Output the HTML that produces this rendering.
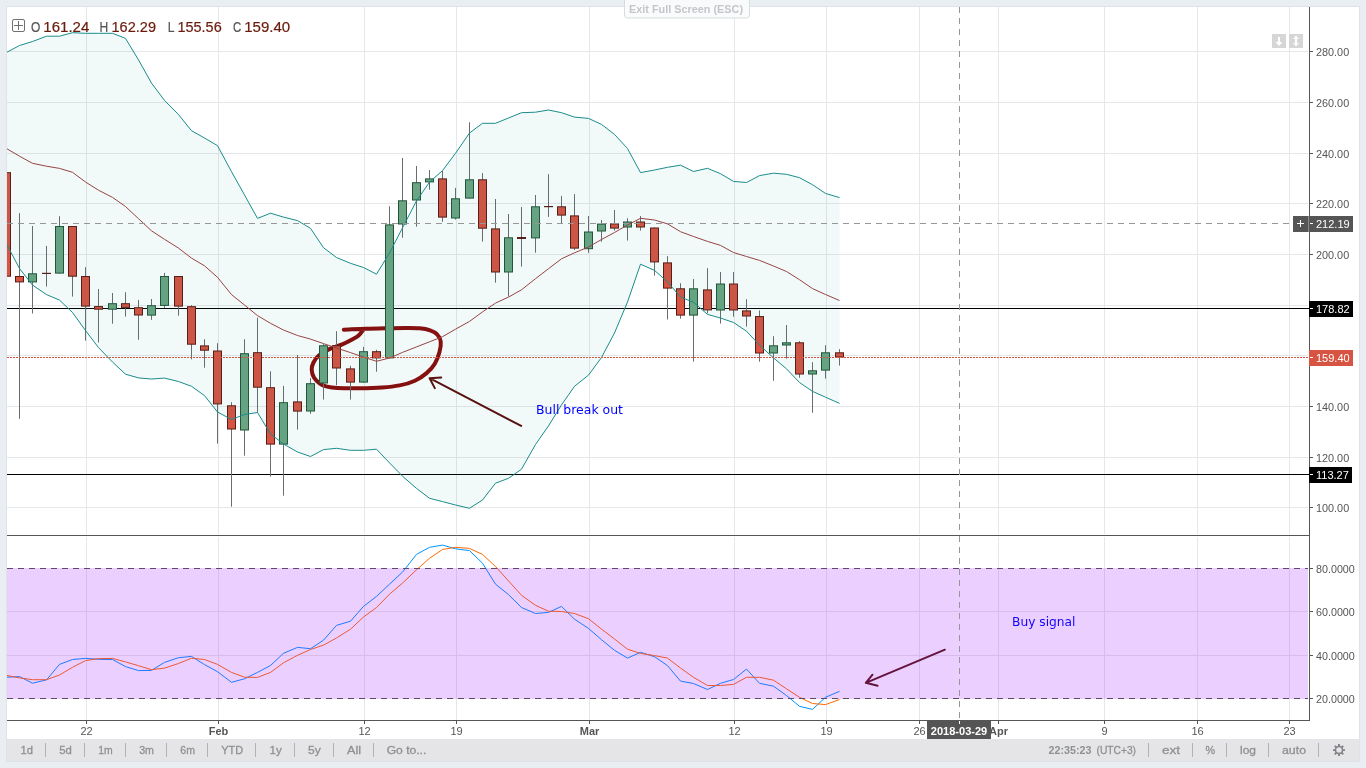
<!DOCTYPE html>
<html lang="en"><head><meta charset="utf-8"><title>Chart</title>
<style>html,body{margin:0;padding:0;background:#e9eef2;overflow:hidden}svg{display:block;will-change:transform;transform:translateZ(0)}text{font-family:"Liberation Sans", Arial, sans-serif}</style>
</head><body>
<svg width="1366" height="768" viewBox="0 0 1366 768">
<defs><clipPath id="main"><rect x="7" y="7" width="1302" height="528"/></clipPath><clipPath id="sto"><rect x="7" y="536" width="1302" height="184"/></clipPath></defs>
<rect width="1366" height="768" fill="#e9eef2"/>
<rect x="6" y="6" width="1354" height="756" fill="#dde3e8"/>
<rect x="7" y="7" width="1352" height="732" fill="#ffffff"/>
<rect x="7" y="739" width="1352" height="22" fill="#e5e5e7"/>
<path d="M86.5 7V534 M86.5 537V720 M218.5 7V534 M218.5 537V720 M364.5 7V534 M364.5 537V720 M456.5 7V534 M456.5 537V720 M589.5 7V534 M589.5 537V720 M734.5 7V534 M734.5 537V720 M826.5 7V534 M826.5 537V720 M919.5 7V534 M919.5 537V720 M998.5 7V534 M998.5 537V720 M1104.5 7V534 M1104.5 537V720 M1197.5 7V534 M1197.5 537V720 M1289.5 7V534 M1289.5 537V720 M7 51.5H1308 M7 102.5H1308 M7 153.5H1308 M7 203.5H1308 M7 254.5H1308 M7 305.5H1308 M7 355.5H1308 M7 406.5H1308 M7 457.5H1308 M7 507.5H1308 M7 611.5H1308 M7 655.5H1308" stroke="#e6e7e8" stroke-width="1" fill="none" shape-rendering="crispEdges"/>
<g clip-path="url(#main)">
<path d="M7 308.5H1309M7 474.5H1309" stroke="#000" stroke-width="1.15" fill="none"/>
<path d="M343.8 329.7C347.4 329.6 358.6 329.0 365.6 328.8C372.6 328.6 379.0 328.4 385.6 328.3C392.2 328.2 399.8 328.0 405.5 328.0C411.2 328.0 415.5 327.9 419.6 328.3C423.7 328.7 427.2 329.3 430.1 330.3C433.0 331.3 435.3 332.5 437.1 334.4C438.9 336.2 440.3 338.5 440.7 341.4C441.1 344.3 440.5 348.3 439.5 352.0C438.5 355.7 436.9 360.2 434.8 363.7C432.7 367.2 429.9 370.3 426.6 373.1C423.3 375.9 419.4 378.6 414.9 380.7C410.4 382.8 405.1 384.3 399.6 385.4C394.1 386.5 388.9 387.0 382.1 387.5C375.3 388.0 366.0 388.2 358.6 388.3C351.2 388.4 342.8 388.3 337.5 388.0C332.2 387.7 329.9 387.3 327.0 386.6C324.1 385.9 322.0 385.1 319.9 383.6C317.8 382.1 315.5 380.1 314.1 377.8C312.7 375.5 311.8 372.2 311.7 369.6C311.6 367.1 312.3 364.9 313.5 362.5C314.7 360.1 316.2 357.7 318.8 355.5C321.4 353.3 325.4 351.0 329.3 349.1C333.2 347.2 338.5 346.0 342.2 344.4C345.9 342.8 348.9 341.2 351.6 339.7C354.3 338.2 356.7 337.3 358.6 335.6C360.6 333.9 362.5 330.7 363.3 329.7" fill="none" stroke="#8c0a0a" stroke-width="4" stroke-linecap="round" stroke-linejoin="round"/>
<path d="M521.2 425.9L429.6 378.2M441.2 377.4L429.6 378.2L434.8 388.1" fill="none" stroke="#5e0c0c" stroke-width="2" stroke-linecap="round" stroke-linejoin="round"/>
<path d="M6.5 172.2V276.7 M19.5 213.1V418.9 M32.5 226.0V313.5 M46.5 245.9V286.6 M59.5 216.2V273.6 M72.5 226.0V296.6 M85.5 267.2V340.7 M98.5 289.0V342.5 M112.5 293.0V323.7 M125.5 292.2V316.6 M138.5 299.9V339.8 M151.5 299.0V319.8 M164.5 272.9V307.9 M178.5 276.0V315.7 M191.5 305.2V359.3 M204.5 339.2V367.7 M217.5 343.2V443.6 M231.5 402.2V506.7 M244.5 339.2V455.7 M257.5 317.7V412.4 M270.5 371.3V476.6 M283.5 385.9V495.7 M297.5 355.0V429.7 M310.5 378.2V413.8 M323.5 344.2V399.6 M336.5 331.2V385.2 M350.5 365.8V399.6 M363.5 346.9V382.6 M376.5 349.8V371.7 M389.5 206.2V358.4 M402.5 158.0V237.7 M416.5 166.0V226.7 M429.5 170.0V189.7 M442.5 170.9V221.8 M455.5 187.9V219.6 M469.5 122.2V198.6 M482.5 173.1V241.6 M495.5 199.0V282.7 M508.5 214.0V296.4 M521.5 207.0V266.6 M535.5 195.0V252.7 M548.5 174.2V216.9 M561.5 195.9V223.3 M574.5 194.1V250.0 M588.5 216.0V252.8 M601.5 220.0V241.7 M614.5 210.0V230.7 M627.5 218.2V240.6 M640.5 216.0V230.6 M654.5 227.5V275.6 M667.5 256.1V319.5 M680.5 283.2V318.7 M693.5 279.0V361.6 M707.5 268.2V313.3 M720.5 272.0V323.6 M733.5 272.0V316.7 M746.5 299.2V326.6 M759.5 310.4V361.7 M773.5 336.2V380.8 M786.5 325.0V358.7 M799.5 341.1V377.7 M812.5 362.2V412.8 M825.5 345.2V378.6 M839.5 349.1V365.6" stroke="#6a6d70" stroke-width="1" fill="none"/>
<rect x="2.5" y="172.7" width="8" height="103.5" fill="#d75442" stroke="#5b1a13" stroke-width="1"/>
<rect x="15.5" y="276.5" width="8" height="5.4" fill="#d75442" stroke="#5b1a13" stroke-width="1"/>
<rect x="28.5" y="273.8" width="8" height="8.1" fill="#6ba583" stroke="#225437" stroke-width="1"/>
<rect x="42" y="272.8" width="9" height="1.2" fill="#5b1a13"/>
<rect x="55.5" y="226.5" width="8" height="46.6" fill="#6ba583" stroke="#225437" stroke-width="1"/>
<rect x="68.5" y="226.5" width="8" height="49.7" fill="#d75442" stroke="#5b1a13" stroke-width="1"/>
<rect x="81.5" y="276.5" width="8" height="29.6" fill="#d75442" stroke="#5b1a13" stroke-width="1"/>
<rect x="94.5" y="306.6" width="8" height="2.6" fill="#d75442" stroke="#5b1a13" stroke-width="1"/>
<rect x="108.5" y="303.7" width="8" height="5.5" fill="#6ba583" stroke="#225437" stroke-width="1"/>
<rect x="121.5" y="303.7" width="8" height="3.7" fill="#d75442" stroke="#5b1a13" stroke-width="1"/>
<rect x="134.5" y="307.7" width="8" height="7.3" fill="#d75442" stroke="#5b1a13" stroke-width="1"/>
<rect x="147.5" y="305.7" width="8" height="9.4" fill="#6ba583" stroke="#225437" stroke-width="1"/>
<rect x="160.5" y="276.5" width="8" height="28.9" fill="#6ba583" stroke="#225437" stroke-width="1"/>
<rect x="174.5" y="276.5" width="8" height="29.6" fill="#d75442" stroke="#5b1a13" stroke-width="1"/>
<rect x="187.5" y="306.7" width="8" height="37.5" fill="#d75442" stroke="#5b1a13" stroke-width="1"/>
<rect x="200.5" y="345.9" width="8" height="4.3" fill="#d75442" stroke="#5b1a13" stroke-width="1"/>
<rect x="213.5" y="351.0" width="8" height="52.9" fill="#d75442" stroke="#5b1a13" stroke-width="1"/>
<rect x="227.5" y="405.8" width="8" height="23.2" fill="#d75442" stroke="#5b1a13" stroke-width="1"/>
<rect x="240.5" y="353.7" width="8" height="76.3" fill="#6ba583" stroke="#225437" stroke-width="1"/>
<rect x="253.5" y="352.7" width="8" height="34.5" fill="#d75442" stroke="#5b1a13" stroke-width="1"/>
<rect x="266.5" y="387.7" width="8" height="56.4" fill="#d75442" stroke="#5b1a13" stroke-width="1"/>
<rect x="279.5" y="402.7" width="8" height="41.4" fill="#6ba583" stroke="#225437" stroke-width="1"/>
<rect x="293.5" y="401.9" width="8" height="9.2" fill="#d75442" stroke="#5b1a13" stroke-width="1"/>
<rect x="306.5" y="383.7" width="8" height="27.3" fill="#6ba583" stroke="#225437" stroke-width="1"/>
<rect x="319.5" y="345.8" width="8" height="37.2" fill="#6ba583" stroke="#225437" stroke-width="1"/>
<rect x="332.5" y="345.8" width="8" height="22.2" fill="#d75442" stroke="#5b1a13" stroke-width="1"/>
<rect x="346.5" y="368.9" width="8" height="13.2" fill="#d75442" stroke="#5b1a13" stroke-width="1"/>
<rect x="359.5" y="351.7" width="8" height="30.4" fill="#6ba583" stroke="#225437" stroke-width="1"/>
<rect x="372.5" y="351.7" width="8" height="6.2" fill="#d75442" stroke="#5b1a13" stroke-width="1"/>
<rect x="385.5" y="224.9" width="8" height="133.0" fill="#6ba583" stroke="#225437" stroke-width="1"/>
<rect x="398.5" y="200.8" width="8" height="23.2" fill="#6ba583" stroke="#225437" stroke-width="1"/>
<rect x="412.5" y="182.7" width="8" height="17.3" fill="#6ba583" stroke="#225437" stroke-width="1"/>
<rect x="425.5" y="178.9" width="8" height="3.0" fill="#6ba583" stroke="#225437" stroke-width="1"/>
<rect x="438.5" y="178.9" width="8" height="38.2" fill="#d75442" stroke="#5b1a13" stroke-width="1"/>
<rect x="451.5" y="198.8" width="8" height="19.2" fill="#6ba583" stroke="#225437" stroke-width="1"/>
<rect x="465.5" y="179.8" width="8" height="18.3" fill="#6ba583" stroke="#225437" stroke-width="1"/>
<rect x="478.5" y="179.8" width="8" height="48.4" fill="#d75442" stroke="#5b1a13" stroke-width="1"/>
<rect x="491.5" y="228.9" width="8" height="43.1" fill="#d75442" stroke="#5b1a13" stroke-width="1"/>
<rect x="504.5" y="237.8" width="8" height="34.2" fill="#6ba583" stroke="#225437" stroke-width="1"/>
<rect x="517" y="237.0" width="9" height="2.0" fill="#5b1a13"/>
<rect x="531.5" y="206.8" width="8" height="31.1" fill="#6ba583" stroke="#225437" stroke-width="1"/>
<rect x="544" y="206.0" width="9" height="1.2" fill="#5b1a13"/>
<rect x="557.5" y="206.8" width="8" height="8.3" fill="#d75442" stroke="#5b1a13" stroke-width="1"/>
<rect x="570.5" y="215.9" width="8" height="32.2" fill="#d75442" stroke="#5b1a13" stroke-width="1"/>
<rect x="584.5" y="232.0" width="8" height="16.7" fill="#6ba583" stroke="#225437" stroke-width="1"/>
<rect x="597.5" y="224.1" width="8" height="6.9" fill="#6ba583" stroke="#225437" stroke-width="1"/>
<rect x="610.5" y="223.9" width="8" height="4.2" fill="#d75442" stroke="#5b1a13" stroke-width="1"/>
<rect x="623.5" y="222.0" width="8" height="5.0" fill="#6ba583" stroke="#225437" stroke-width="1"/>
<rect x="636.5" y="222.0" width="8" height="5.0" fill="#d75442" stroke="#5b1a13" stroke-width="1"/>
<rect x="650.5" y="228.0" width="8" height="33.9" fill="#d75442" stroke="#5b1a13" stroke-width="1"/>
<rect x="663.5" y="262.9" width="8" height="25.2" fill="#d75442" stroke="#5b1a13" stroke-width="1"/>
<rect x="676.5" y="288.8" width="8" height="26.3" fill="#d75442" stroke="#5b1a13" stroke-width="1"/>
<rect x="689.5" y="288.8" width="8" height="26.3" fill="#6ba583" stroke="#225437" stroke-width="1"/>
<rect x="703.5" y="289.9" width="8" height="20.0" fill="#d75442" stroke="#5b1a13" stroke-width="1"/>
<rect x="716.5" y="284.0" width="8" height="26.0" fill="#6ba583" stroke="#225437" stroke-width="1"/>
<rect x="729.5" y="284.0" width="8" height="26.0" fill="#d75442" stroke="#5b1a13" stroke-width="1"/>
<rect x="742.5" y="310.9" width="8" height="5.1" fill="#d75442" stroke="#5b1a13" stroke-width="1"/>
<rect x="755.5" y="316.6" width="8" height="36.4" fill="#d75442" stroke="#5b1a13" stroke-width="1"/>
<rect x="769.5" y="345.8" width="8" height="7.2" fill="#6ba583" stroke="#225437" stroke-width="1"/>
<rect x="782.5" y="342.8" width="8" height="2.2" fill="#6ba583" stroke="#225437" stroke-width="1"/>
<rect x="795.5" y="342.8" width="8" height="31.2" fill="#d75442" stroke="#5b1a13" stroke-width="1"/>
<rect x="808.5" y="370.8" width="8" height="3.2" fill="#6ba583" stroke="#225437" stroke-width="1"/>
<rect x="821.5" y="352.8" width="8" height="17.3" fill="#6ba583" stroke="#225437" stroke-width="1"/>
<rect x="835.5" y="352.8" width="8" height="4.2" fill="#d75442" stroke="#5b1a13" stroke-width="1"/>
<polygon points="6.5,52.4 19.5,45.5 32.5,41.5 46.5,36.2 59.5,36.2 72.5,32.7 85.5,33.3 98.5,33.3 112.5,33.3 125.5,38.4 138.5,59.9 151.5,83.1 164.5,100.4 178.5,114.6 191.5,130.7 204.5,138.0 217.5,145.6 231.5,171.7 244.5,194.9 257.5,218.4 270.5,213.2 283.5,217.1 297.5,220.6 310.5,228.3 323.5,247.7 336.5,257.5 350.5,263.3 363.5,267.5 376.5,274.2 389.5,252.9 402.5,227.9 416.5,200.8 429.5,182.1 442.5,170.6 455.5,153.3 469.5,133.0 482.5,123.3 495.5,123.3 508.5,118.0 521.5,112.7 535.5,112.2 548.5,110.0 561.5,112.7 574.5,117.1 588.5,118.4 601.5,124.4 614.5,134.4 627.5,148.5 640.5,172.6 654.5,170.0 667.5,167.3 680.5,165.2 693.5,171.5 707.5,168.3 720.5,173.7 733.5,181.4 746.5,182.5 759.5,175.6 773.5,173.2 786.5,174.3 799.5,177.7 812.5,184.7 825.5,193.4 839.5,197.6 839.5,403.4 825.5,397.2 812.5,391.4 799.5,382.5 786.5,368.8 773.5,357.9 759.5,345.2 746.5,331.2 733.5,322.5 720.5,318.0 707.5,314.4 693.5,302.3 680.5,297.0 667.5,281.9 654.5,270.4 640.5,264.2 627.5,302.0 614.5,333.0 601.5,357.5 588.5,375.1 574.5,386.3 561.5,404.9 548.5,425.9 535.5,444.5 521.5,469.2 508.5,478.3 495.5,483.2 482.5,500.0 469.5,508.3 455.5,505.0 442.5,501.6 429.5,498.3 416.5,488.4 402.5,476.2 389.5,462.9 376.5,449.2 363.5,450.3 350.5,450.3 336.5,448.3 323.5,449.6 310.5,456.5 297.5,452.0 283.5,444.0 270.5,434.0 257.5,412.5 244.5,414.5 231.5,419.5 217.5,412.0 204.5,395.6 191.5,386.3 178.5,381.5 164.5,378.1 151.5,379.0 138.5,377.9 125.5,374.2 112.5,362.0 98.5,347.6 85.5,330.5 72.5,312.5 59.5,300.1 46.5,294.6 32.5,285.1 19.5,268.5 6.5,244.0" fill="#008080" fill-opacity="0.05"/>
<polyline points="6.5,52.4 19.5,45.5 32.5,41.5 46.5,36.2 59.5,36.2 72.5,32.7 85.5,33.3 98.5,33.3 112.5,33.3 125.5,38.4 138.5,59.9 151.5,83.1 164.5,100.4 178.5,114.6 191.5,130.7 204.5,138.0 217.5,145.6 231.5,171.7 244.5,194.9 257.5,218.4 270.5,213.2 283.5,217.1 297.5,220.6 310.5,228.3 323.5,247.7 336.5,257.5 350.5,263.3 363.5,267.5 376.5,274.2 389.5,252.9 402.5,227.9 416.5,200.8 429.5,182.1 442.5,170.6 455.5,153.3 469.5,133.0 482.5,123.3 495.5,123.3 508.5,118.0 521.5,112.7 535.5,112.2 548.5,110.0 561.5,112.7 574.5,117.1 588.5,118.4 601.5,124.4 614.5,134.4 627.5,148.5 640.5,172.6 654.5,170.0 667.5,167.3 680.5,165.2 693.5,171.5 707.5,168.3 720.5,173.7 733.5,181.4 746.5,182.5 759.5,175.6 773.5,173.2 786.5,174.3 799.5,177.7 812.5,184.7 825.5,193.4 839.5,197.6" fill="none" stroke="#1a8c8c" stroke-width="1"/>
<polyline points="6.5,244.0 19.5,268.5 32.5,285.1 46.5,294.6 59.5,300.1 72.5,312.5 85.5,330.5 98.5,347.6 112.5,362.0 125.5,374.2 138.5,377.9 151.5,379.0 164.5,378.1 178.5,381.5 191.5,386.3 204.5,395.6 217.5,412.0 231.5,419.5 244.5,414.5 257.5,412.5 270.5,434.0 283.5,444.0 297.5,452.0 310.5,456.5 323.5,449.6 336.5,448.3 350.5,450.3 363.5,450.3 376.5,449.2 389.5,462.9 402.5,476.2 416.5,488.4 429.5,498.3 442.5,501.6 455.5,505.0 469.5,508.3 482.5,500.0 495.5,483.2 508.5,478.3 521.5,469.2 535.5,444.5 548.5,425.9 561.5,404.9 574.5,386.3 588.5,375.1 601.5,357.5 614.5,333.0 627.5,302.0 640.5,264.2 654.5,270.4 667.5,281.9 680.5,297.0 693.5,302.3 707.5,314.4 720.5,318.0 733.5,322.5 746.5,331.2 759.5,345.2 773.5,357.9 786.5,368.8 799.5,382.5 812.5,391.4 825.5,397.2 839.5,403.4" fill="none" stroke="#1a8c8c" stroke-width="1"/>
<polyline points="6.5,148.5 19.5,156.2 32.5,163.3 46.5,166.2 59.5,168.4 72.5,172.3 85.5,182.0 98.5,190.2 112.5,197.4 125.5,206.5 138.5,218.7 151.5,230.8 164.5,239.3 178.5,248.1 191.5,258.1 204.5,265.8 217.5,277.3 231.5,294.6 244.5,305.0 257.5,315.6 270.5,323.3 283.5,330.0 297.5,335.5 310.5,339.1 323.5,343.6 336.5,348.0 350.5,352.6 363.5,357.1 376.5,361.3 389.5,358.0 402.5,352.4 416.5,346.9 429.5,341.8 442.5,336.7 455.5,329.2 469.5,321.4 482.5,311.9 495.5,303.1 508.5,297.1 521.5,289.8 535.5,278.7 548.5,268.7 561.5,258.8 574.5,252.8 588.5,247.0 601.5,239.5 614.5,232.5 627.5,225.0 640.5,218.3 654.5,220.0 667.5,223.9 680.5,231.7 693.5,236.5 707.5,241.4 720.5,245.4 733.5,252.5 746.5,256.5 759.5,260.4 773.5,266.0 786.5,271.5 799.5,279.7 812.5,288.6 825.5,294.5 839.5,300.5" fill="none" stroke="#964444" stroke-width="1"/>
</g>
<rect x="7" y="535" width="1302" height="1" fill="#555555"/>
<g clip-path="url(#sto)">
<polyline points="6.5,677.2 19.5,676.6 32.5,683.2 46.5,679.9 59.5,664.4 72.5,659.5 85.5,658.4 98.5,659.3 112.5,659.5 125.5,666.6 138.5,670.6 151.5,670.4 164.5,662.4 178.5,657.7 191.5,656.4 204.5,664.6 217.5,671.7 231.5,682.3 244.5,678.8 257.5,672.4 270.5,665.5 283.5,653.3 297.5,647.4 310.5,648.7 323.5,640.2 336.5,625.4 350.5,621.2 363.5,606.4 376.5,596.4 389.5,584.2 402.5,572.1 416.5,554.4 429.5,547.3 442.5,545.1 455.5,548.8 469.5,550.6 482.5,563.2 495.5,584.2 508.5,594.6 521.5,607.5 535.5,613.5 548.5,612.4 561.5,606.4 574.5,619.2 588.5,628.4 601.5,639.7 614.5,650.3 627.5,658.1 640.5,652.3 654.5,656.7 667.5,665.6 680.5,681.1 693.5,683.5 707.5,689.5 720.5,683.3 733.5,679.5 746.5,669.1 759.5,683.3 773.5,686.2 786.5,695.5 799.5,706.3 812.5,709.4 825.5,697.3 839.5,691.3" fill="none" stroke="#0094ff" stroke-width="1"/>
<polyline points="6.5,675.4 19.5,677.9 32.5,679.7 46.5,679.7 59.5,675.0 72.5,667.3 85.5,660.6 98.5,658.6 112.5,658.4 125.5,661.9 138.5,665.7 151.5,669.7 164.5,668.1 178.5,663.5 191.5,658.2 204.5,659.5 217.5,664.4 231.5,672.4 244.5,677.2 257.5,677.4 270.5,672.4 283.5,662.8 297.5,655.3 310.5,649.5 323.5,645.1 336.5,638.0 350.5,629.2 363.5,617.0 376.5,607.5 389.5,594.2 402.5,583.1 416.5,569.8 429.5,558.3 442.5,549.5 455.5,547.3 469.5,548.4 482.5,554.4 495.5,566.5 508.5,580.9 521.5,595.3 535.5,605.3 548.5,611.2 561.5,611.5 574.5,613.5 588.5,618.7 601.5,629.1 614.5,639.0 627.5,649.2 640.5,653.4 654.5,655.6 667.5,658.1 680.5,668.0 693.5,677.3 707.5,685.5 720.5,685.5 733.5,684.4 746.5,677.3 759.5,677.3 773.5,680.2 786.5,688.8 799.5,697.3 812.5,703.5 825.5,704.6 839.5,699.5" fill="none" stroke="#ff6a00" stroke-width="1"/>
<rect x="7" y="568" width="1301" height="131" fill="#9915ff" fill-opacity="0.2"/>
<path d="M7 568.5H1308M7 698.5H1308" stroke="#5c4a66" stroke-width="1" stroke-dasharray="6 5" fill="none" shape-rendering="crispEdges"/>
</g>
<path d="M7 357.5H1309" stroke="#d75442" stroke-width="1" stroke-dasharray="2 1" fill="none" shape-rendering="crispEdges"/>
<path d="M944.9 649.7L865.8 682.8M872.5 674.7L865.8 682.8L877.6 685.7" fill="none" stroke="#64143c" stroke-width="2" stroke-linecap="round" stroke-linejoin="round"/>
<text x="536" y="414" font-size="12.2" fill="#0000ff" style="font-family:'DejaVu Sans',Verdana,sans-serif" textLength="87" lengthAdjust="spacingAndGlyphs">Bull break out</text>
<text x="1012" y="626" font-size="12.2" fill="#1400ff" style="font-family:'DejaVu Sans',Verdana,sans-serif" textLength="63.5" lengthAdjust="spacingAndGlyphs">Buy signal</text>
<path d="M7 223.5H1293" stroke="#969696" stroke-width="1" stroke-dasharray="6 5" fill="none" shape-rendering="crispEdges"/>
<path d="M959.5 7V535M959.5 536V721" stroke="#969696" stroke-width="1" stroke-dasharray="6 5" fill="none" shape-rendering="crispEdges"/>
<rect x="1309" y="7" width="1" height="714" fill="#555555"/>
<rect x="7" y="720" width="1303" height="1" fill="#555555"/>
<path d="M1310 51.5H1313 M1310 102.5H1313 M1310 153.5H1313 M1310 203.5H1313 M1310 254.5H1313 M1310 305.5H1313 M1310 355.5H1313 M1310 406.5H1313 M1310 457.5H1313 M1310 507.5H1313 M1310 568.5H1313 M1310 611.5H1313 M1310 655.5H1313 M1310 698.5H1313 M86.5 721V724 M218.5 721V724 M364.5 721V724 M456.5 721V724 M589.5 721V724 M734.5 721V724 M826.5 721V724 M919.5 721V724 M998.5 721V724 M1104.5 721V724 M1197.5 721V724 M1289.5 721V724" stroke="#555555" stroke-width="1" fill="none" shape-rendering="crispEdges"/>
<text x="1316" y="55.5" font-size="11" fill="#555555" textLength="33.2" lengthAdjust="spacingAndGlyphs">280.00</text>
<text x="1316" y="106.5" font-size="11" fill="#555555" textLength="33.2" lengthAdjust="spacingAndGlyphs">260.00</text>
<text x="1316" y="157.5" font-size="11" fill="#555555" textLength="33.2" lengthAdjust="spacingAndGlyphs">240.00</text>
<text x="1316" y="207.5" font-size="11" fill="#555555" textLength="33.2" lengthAdjust="spacingAndGlyphs">220.00</text>
<text x="1316" y="258.5" font-size="11" fill="#555555" textLength="33.2" lengthAdjust="spacingAndGlyphs">200.00</text>
<text x="1316" y="410.5" font-size="11" fill="#555555" textLength="33.2" lengthAdjust="spacingAndGlyphs">140.00</text>
<text x="1316" y="461.5" font-size="11" fill="#555555" textLength="33.2" lengthAdjust="spacingAndGlyphs">120.00</text>
<text x="1316" y="511.5" font-size="11" fill="#555555" textLength="33.2" lengthAdjust="spacingAndGlyphs">100.00</text>
<text x="1316" y="572.5" font-size="11" fill="#555555" textLength="38.8" lengthAdjust="spacingAndGlyphs">80.0000</text>
<text x="1316" y="615.5" font-size="11" fill="#555555" textLength="38.8" lengthAdjust="spacingAndGlyphs">60.0000</text>
<text x="1316" y="659.5" font-size="11" fill="#555555" textLength="38.8" lengthAdjust="spacingAndGlyphs">40.0000</text>
<text x="1316" y="702.5" font-size="11" fill="#555555" textLength="38.8" lengthAdjust="spacingAndGlyphs">20.0000</text>
<text x="86.5" y="735" font-size="11" fill="#555555" text-anchor="middle">22</text>
<text x="218.5" y="735" font-size="11" fill="#555555" text-anchor="middle" font-weight="bold">Feb</text>
<text x="364.5" y="735" font-size="11" fill="#555555" text-anchor="middle">12</text>
<text x="456.5" y="735" font-size="11" fill="#555555" text-anchor="middle">19</text>
<text x="589.5" y="735" font-size="11" fill="#555555" text-anchor="middle" font-weight="bold">Mar</text>
<text x="734.5" y="735" font-size="11" fill="#555555" text-anchor="middle">12</text>
<text x="826.5" y="735" font-size="11" fill="#555555" text-anchor="middle">19</text>
<text x="919.5" y="735" font-size="11" fill="#555555" text-anchor="middle">26</text>
<text x="998.5" y="735" font-size="11" fill="#555555" text-anchor="middle" font-weight="bold">Apr</text>
<text x="1104.5" y="735" font-size="11" fill="#555555" text-anchor="middle">9</text>
<text x="1197.5" y="735" font-size="11" fill="#555555" text-anchor="middle">16</text>
<text x="1289.5" y="735" font-size="11" fill="#555555" text-anchor="middle">23</text>
<rect x="927" y="721" width="64" height="18" fill="#555555"/>
<rect x="959" y="721" width="1" height="3" fill="#ffffff"/>
<text x="959" y="735" font-size="11" font-weight="bold" fill="#ffffff" text-anchor="middle" textLength="56.5" lengthAdjust="spacingAndGlyphs">2018-03-29</text>
<rect x="1293" y="216" width="15" height="16" fill="#555555"/>
<rect x="1308" y="216" width="1" height="16" fill="#8a8a8a"/>
<rect x="1309" y="216" width="44" height="16" fill="#555555"/>
<path d="M1297 223.5H1304M1300.5 220V227" stroke="#fff" stroke-width="1" fill="none" shape-rendering="crispEdges"/>
<rect x="1310" y="223" width="3" height="1" fill="#fff"/>
<text x="1316" y="228" font-size="11" fill="#fff">212.19</text>
<rect x="1309" y="301" width="44" height="16" fill="#000"/>
<rect x="1310" y="308" width="3" height="1" fill="#fff"/>
<text x="1316" y="313" font-size="11" fill="#fff">178.82</text>
<rect x="1309" y="350" width="44" height="16" fill="#d75442"/>
<rect x="1310" y="357" width="3" height="1" fill="#fff"/>
<text x="1316" y="362" font-size="11" fill="#fff">159.40</text>
<rect x="1309" y="467" width="43" height="16" fill="#000"/>
<rect x="1310" y="474" width="3" height="1" fill="#fff"/>
<text x="1316" y="479" font-size="11" fill="#fff">113.27</text>
<rect x="1272" y="34" width="14" height="14" fill="#d6d6d6"/><rect x="1289" y="34" width="14" height="14" fill="#d6d6d6"/>
<path d="M1278 37h2v5h2.5l-3.5 4l-3.5-4h2.5z" fill="#fff"/>
<path d="M1296 35.5l3 3.5h-2v4h2l-3 3.5l-3-3.5h2v-4h-2z" fill="#fff"/>
<rect x="12.5" y="19.5" width="12" height="12" rx="1.5" fill="none" stroke="#707070" stroke-width="1"/>
<path d="M14 25.5H23M18.5 21V30" stroke="#707070" stroke-width="1" fill="none" shape-rendering="crispEdges"/>
<text x="31" y="31.8" font-size="14.9" fill="#555" stroke="#555" stroke-width="0.2" textLength="9.3" lengthAdjust="spacingAndGlyphs">O</text>
<text x="43.3" y="31.8" font-size="14.9" fill="#6a1b0b" stroke="#6a1b0b" stroke-width="0.2" textLength="46" lengthAdjust="spacingAndGlyphs">161.24</text>
<text x="99.5" y="31.8" font-size="14.9" fill="#555" stroke="#555" stroke-width="0.2" textLength="8.7" lengthAdjust="spacingAndGlyphs">H</text>
<text x="111.5" y="31.8" font-size="14.9" fill="#6a1b0b" stroke="#6a1b0b" stroke-width="0.2" textLength="44.5" lengthAdjust="spacingAndGlyphs">162.29</text>
<text x="167.7" y="31.8" font-size="14.9" fill="#555" stroke="#555" stroke-width="0.2" textLength="6.8" lengthAdjust="spacingAndGlyphs">L</text>
<text x="177.5" y="31.8" font-size="14.9" fill="#6a1b0b" stroke="#6a1b0b" stroke-width="0.2" textLength="44.2" lengthAdjust="spacingAndGlyphs">155.56</text>
<text x="233" y="31.8" font-size="14.9" fill="#555" stroke="#555" stroke-width="0.2" textLength="8.2" lengthAdjust="spacingAndGlyphs">C</text>
<text x="244.2" y="31.8" font-size="14.9" fill="#6a1b0b" stroke="#6a1b0b" stroke-width="0.2" textLength="46" lengthAdjust="spacingAndGlyphs">159.40</text>
<path d="M624.5 0V15a3 3 0 0 0 3 3H746.500a3 3 0 0 0 3-3V0" fill="#fafbfc" fill-opacity="0.92" stroke="#d9dcdf" stroke-width="1"/>
<text x="629" y="13" font-size="11.2" font-weight="bold" fill="#c4c6ca" textLength="114" lengthAdjust="spacingAndGlyphs">Exit Full Screen (ESC)</text>
<path d="M45.5 743V757 M84.5 743V757 M125.5 743V757 M166.5 743V757 M207.5 743V757 M255.5 743V757 M294.5 743V757 M333.5 743V757 M373.5 743V757 M1148.5 743V757 M1192.5 743V757 M1226.5 743V757 M1268.5 743V757 M1318.5 743V757" stroke="#b0b2b6" stroke-width="1" fill="none" shape-rendering="crispEdges"/>
<text x="20.5" y="754" font-size="11.6" fill="#8e9093" stroke="#8e9093" stroke-width="0.3" textLength="12.5" lengthAdjust="spacingAndGlyphs">1d</text>
<text x="59.3" y="754" font-size="11.6" fill="#8e9093" stroke="#8e9093" stroke-width="0.3" textLength="12.6" lengthAdjust="spacingAndGlyphs">5d</text>
<text x="98.2" y="754" font-size="11.6" fill="#8e9093" stroke="#8e9093" stroke-width="0.3" textLength="14.5" lengthAdjust="spacingAndGlyphs">1m</text>
<text x="139.2" y="754" font-size="11.6" fill="#8e9093" stroke="#8e9093" stroke-width="0.3" textLength="14.8" lengthAdjust="spacingAndGlyphs">3m</text>
<text x="180.3" y="754" font-size="11.6" fill="#8e9093" stroke="#8e9093" stroke-width="0.3" textLength="14.6" lengthAdjust="spacingAndGlyphs">6m</text>
<text x="221.3" y="754" font-size="11.6" fill="#8e9093" stroke="#8e9093" stroke-width="0.3" textLength="21.9" lengthAdjust="spacingAndGlyphs">YTD</text>
<text x="269.5" y="754" font-size="11.6" fill="#8e9093" stroke="#8e9093" stroke-width="0.3" textLength="12.3" lengthAdjust="spacingAndGlyphs">1y</text>
<text x="308" y="754" font-size="11.6" fill="#8e9093" stroke="#8e9093" stroke-width="0.3" textLength="12.7" lengthAdjust="spacingAndGlyphs">5y</text>
<text x="347" y="754" font-size="11.6" fill="#8e9093" stroke="#8e9093" stroke-width="0.3" textLength="14" lengthAdjust="spacingAndGlyphs">All</text>
<text x="386.7" y="754" font-size="11.6" fill="#8e9093" stroke="#8e9093" stroke-width="0.3" textLength="39.6" lengthAdjust="spacingAndGlyphs">Go to...</text>
<text x="1162" y="754" font-size="11.6" fill="#8e9093" stroke="#8e9093" stroke-width="0.3" textLength="18" lengthAdjust="spacingAndGlyphs">ext</text>
<text x="1205.5" y="754" font-size="11.6" fill="#8e9093" stroke="#8e9093" stroke-width="0.3" textLength="9.6" lengthAdjust="spacingAndGlyphs">%</text>
<text x="1240" y="754" font-size="11.6" fill="#8e9093" stroke="#8e9093" stroke-width="0.3" textLength="16" lengthAdjust="spacingAndGlyphs">log</text>
<text x="1282" y="754" font-size="11.6" fill="#8e9093" stroke="#8e9093" stroke-width="0.3" textLength="24" lengthAdjust="spacingAndGlyphs">auto</text>
<text x="1048.5" y="754" font-size="11.6" font-weight="bold" fill="#8e9093" textLength="43" lengthAdjust="spacingAndGlyphs">22:35:23</text>
<text x="1096.5" y="754" font-size="11.6" stroke="#8e9093" stroke-width="0.3" fill="#8e9093" textLength="39.5" lengthAdjust="spacingAndGlyphs">(UTC+3)</text>
<path d="M1342.80 750.10L1345.00 750.10 M1341.69 752.79L1343.24 754.34 M1339.00 753.90L1339.00 756.10 M1336.31 752.79L1334.76 754.34 M1335.20 750.10L1333.00 750.10 M1336.31 747.41L1334.76 745.86 M1339.00 746.30L1339.00 744.10 M1341.69 747.41L1343.24 745.86" stroke="#808286" stroke-width="1.9" fill="none"/>
<circle cx="1339" cy="750.1" r="3.5" fill="none" stroke="#808286" stroke-width="1.5"/>
</svg></body></html>
